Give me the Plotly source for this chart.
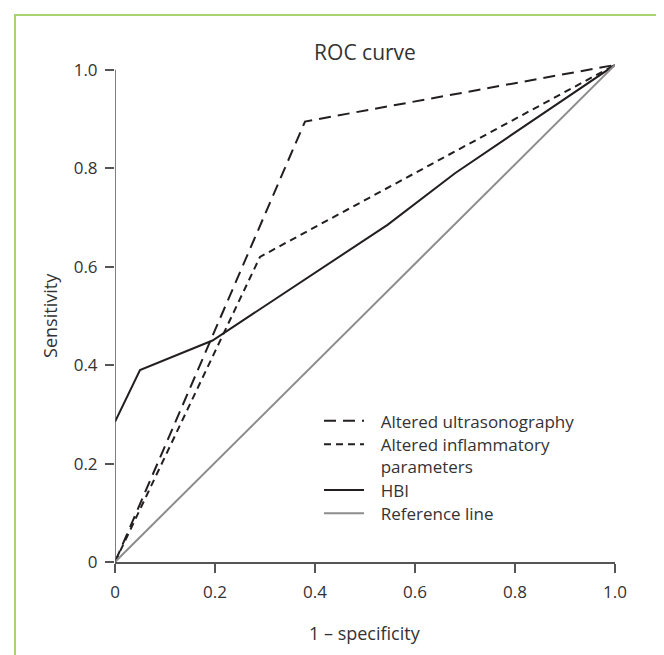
import plotly.graph_objects as go

# ---- data ----
PAD = "\u00a0\u00a0\u2009"
us_name = PAD + "Altered ultrasonography"
us_x = [0.0, 0.38, 1.0]
us_y = [0.0, 0.895, 1.01]

inf_name = PAD + "Altered inflammatory<br>" + PAD + "parameters"
inf_x = [0.0, 0.29, 1.0]
inf_y = [0.0, 0.62, 1.01]

hbi_name = PAD + "HBI"
hbi_x = [0.0, 0.05, 0.195, 0.545, 0.68, 1.0]
hbi_y = [0.285, 0.39, 0.45, 0.685, 0.79, 1.01]

ref_name = PAD + "Reference line"
ref_x = [0.0, 1.0]
ref_y = [0.0, 1.01]

tick_vals = [0, 0.2, 0.4, 0.6, 0.8, 1.0]
tick_text = ["0", "0.2", "0.4", "0.6", "0.8", "1.0"]

FONT = "Open Sans"
TXT = "#333333"
AX = "#555555"
INK = "#231f20"

fig = go.Figure()
fig.add_trace(go.Scatter(x=us_x, y=us_y, mode="lines", name=us_name, legend="legend",
                         line=dict(color=INK, width=2, dash="12px,7px")))
fig.add_trace(go.Scatter(x=inf_x, y=inf_y, mode="lines", name=inf_name, legend="legend2",
                         line=dict(color=INK, width=2, dash="7px,5px")))
fig.add_trace(go.Scatter(x=hbi_x, y=hbi_y, mode="lines", name=hbi_name, legend="legend3",
                         line=dict(color=INK, width=2)))
fig.add_trace(go.Scatter(x=ref_x, y=ref_y, mode="lines", name=ref_name, legend="legend4",
                         line=dict(color="#8c8c8c", width=2)))


def leg(ytop):
    return dict(x=0.408, y=ytop, xanchor="left", yanchor="top",
                bgcolor="rgba(0,0,0,0)", borderwidth=0,
                font=dict(family=FONT, size=17, color=TXT),
                valign="top", itemwidth=40)


fig.update_layout(
    width=664, height=655,
    margin=dict(l=107, r=57, t=52, b=101),
    paper_bgcolor="white", plot_bgcolor="white",
    font=dict(family=FONT, size=18, color=TXT),
    title=dict(text="ROC curve", x=0.5, xanchor="center", xref="paper",
               y=1 - 45 / 655, yref="container", yanchor="middle",
               font=dict(family=FONT, size=21, color=TXT)),
    showlegend=True,
    legend=leg(0.3161),
    legend2=leg(0.2693),
    legend3=leg(0.1783),
    legend4=leg(0.1321),
    xaxis=dict(range=[0, 1.0], showgrid=False, zeroline=False,
               showline=True, linecolor=AX, linewidth=1.5,
               ticks="outside", ticklen=9, tickcolor=AX, tickwidth=1.5,
               tickvals=tick_vals, ticktext=tick_text, ticklabelstandoff=5,
               tickfont=dict(family=FONT, size=17, color=TXT)),
    yaxis=dict(range=[0, 1.02], showgrid=False, zeroline=False,
               showline=False,
               ticks="outside", ticklen=9, tickcolor=AX, tickwidth=1.5,
               tickvals=tick_vals, ticktext=tick_text, ticklabelstandoff=4,
               tickfont=dict(family=FONT, size=17, color=TXT)),
)

# y axis line only up to 1.0 (as in the reference)
fig.add_shape(type="line", xref="x", yref="y", x0=0, x1=0, y0=0, y1=1.0,
              line=dict(color=AX, width=1.5), layer="above")

# axis titles
fig.add_annotation(text="1 \u2013 specificity", xref="paper", yref="paper",
                   x=0.5, y=0, xanchor="center", yanchor="middle", yshift=-71,
                   showarrow=False, font=dict(family=FONT, size=18, color=TXT))
fig.add_annotation(text="Sensitivity", xref="paper", yref="y",
                   x=0, y=0.5, xanchor="center", yanchor="middle", xshift=-65,
                   showarrow=False, textangle=-90,
                   font=dict(family=FONT, size=18, color=TXT))

# green frame
fig.add_shape(type="rect", xref="paper", yref="paper",
              x0=-0.2, x1=2.0, y0=-2.0, y1=(554 - 7) / 502,
              line=dict(color="#a8d46f", width=2), fillcolor="rgba(0,0,0,0)",
              layer="below")

fig.write_html("out.html")
